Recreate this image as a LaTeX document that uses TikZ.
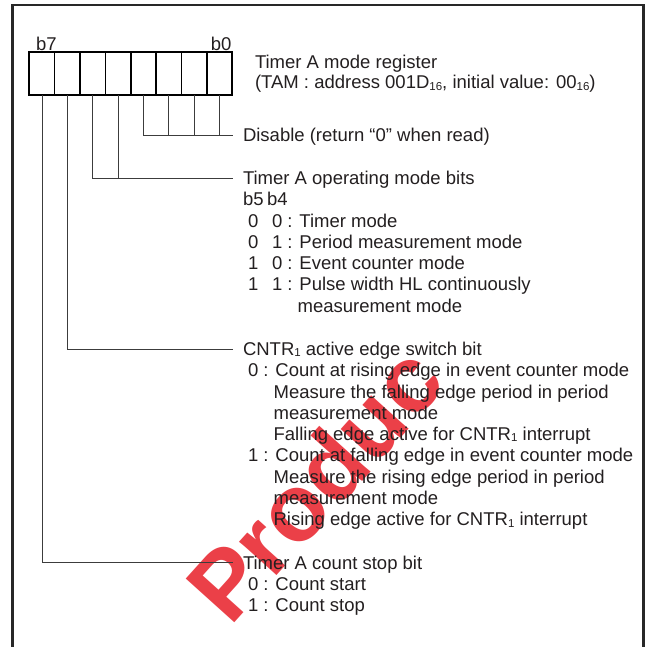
\documentclass[tikz,border=0pt]{standalone}
\usepackage{fontspec}
\setmainfont{Liberation Sans}
\definecolor{ink}{RGB}{35,31,32}
\definecolor{wire}{RGB}{60,60,60}
\definecolor{framec}{RGB}{40,40,40}
\definecolor{wm}{RGB}{232,30,40}
\newcommand\sbs[1]{\raisebox{-1.2pt}{\fontsize{11.5}{12}\selectfont#1}}
\tikzset{
  txt/.style={anchor=base west, inner sep=0pt, outer sep=0pt, text=ink, font=\fontsize{18.5}{21}\selectfont},
  head/.style={anchor=west, inner sep=0pt, outer sep=0pt, text height=13.25pt, text depth=0pt, text=ink, font=\fontsize{18.5}{21}\selectfont},
  cell/.style={draw=black, line width=1.4pt, minimum width=25.375pt, minimum height=42.7pt, inner sep=0pt, outer sep=0pt},
  wire/.style={draw=wire, line width=0.9pt},
}
\begin{document}
\begin{tikzpicture}[x=1pt,y=-1pt]
\useasboundingbox (0,0) rectangle (648,646);
% watermark
\node[rotate=48, anchor=base west, inner sep=0pt, text=wm, opacity=0.85, font=\fontsize{95}{95}\selectfont\bfseries] (wmark) at (230,628) {Produc};
% frame
\draw[framec, line width=2.6pt] (12.7,652) |- (643.5,5) -- (643.5,652);
% register cells
\foreach \i in {0,...,7}
  \node[cell] (c\i) at ({232.3-12.6875-25.375*\i},73.65) {};
\draw[black, line width=2.3pt] (c7.north west) rectangle (c0.south east);
\node[txt] (lb7) at (36,50) {b7};
\node[txt, anchor=base east] (lb0) at (231.5,50) {b0};
% title
\node[txt] (t1) at (255,68.3) {Timer A mode register};
\node[txt] (t2) at (255,88.8) {(TAM : address 001D\sbs{16}, initial value: 00\sbs{16})};
% headings
\node[head] (hdis) at (243,135) {Disable (return ``0'' when read)};
\node[head] (hopm) at (243,178) {Timer A operating mode bits};
\node[head] (hcntr) at (243,349) {CNTR\sbs{1} active edge switch bit};
\node[head] (hstop) at (243,562.7) {Timer A count stop bit};
% connectors
\draw[wire] (c3.south) |- ([xshift=-10pt]hdis.west);
\foreach \i in {0,1,2} \draw[wire] (c\i.south) -- (c\i.south |- hdis.west);
\draw[wire] (c5.south) |- ([xshift=-10pt]hopm.west);
\draw[wire] (c4.south) -- (c4.south |- hopm.west);
\draw[wire] (c6.south) |- ([xshift=-10pt]hcntr.west);
\draw[wire] (c7.south) |- ([xshift=-10pt]hstop.west);
% mode bits
\node[txt] (mb5) at (243,205.7) {b5};
\node[txt] (mb4) at (267,205.7) {b4};
\node[txt] (m1a) at (248,227.0) {0};
\node[txt] (m1b) at (272,227.0) {0 : Timer mode};
\node[txt] (m2a) at (248,248.3) {0};
\node[txt] (m2b) at (272,248.3) {1 : Period measurement mode};
\node[txt] (m3a) at (248,269.6) {1};
\node[txt] (m3b) at (272,269.6) {0 : Event counter mode};
\node[txt] (m4a) at (248,290.9) {1};
\node[txt] (m4b) at (272,290.9) {1 : Pulse width HL continuously};
\node[txt] (m4c) at (297.6,312.2) {measurement mode};
% CNTR1 edge
\node[txt] (e0a) at (248,376.7) {0 : Count at rising edge in event counter mode};
\node[txt] (e0b) at (273.6,398.0) {Measure the falling edge period in period};
\node[txt] (e0c) at (273.6,419.3) {measurement mode};
\node[txt] (e0d) at (273.6,440.6) {Falling edge active for CNTR\sbs{1} interrupt};
\node[txt] (e1a) at (248,461.9) {1 : Count at falling edge in event counter mode};
\node[txt] (e1b) at (273.6,483.2) {Measure the rising edge period in period};
\node[txt] (e1c) at (273.6,504.5) {measurement mode};
\node[txt] (e1d) at (273.6,525.8) {Rising edge active for CNTR\sbs{1} interrupt};
% count stop
\node[txt] (s0) at (248,590.6) {0 : Count start};
\node[txt] (s1) at (248,611.9) {1 : Count stop};
\end{tikzpicture}
\end{document}
